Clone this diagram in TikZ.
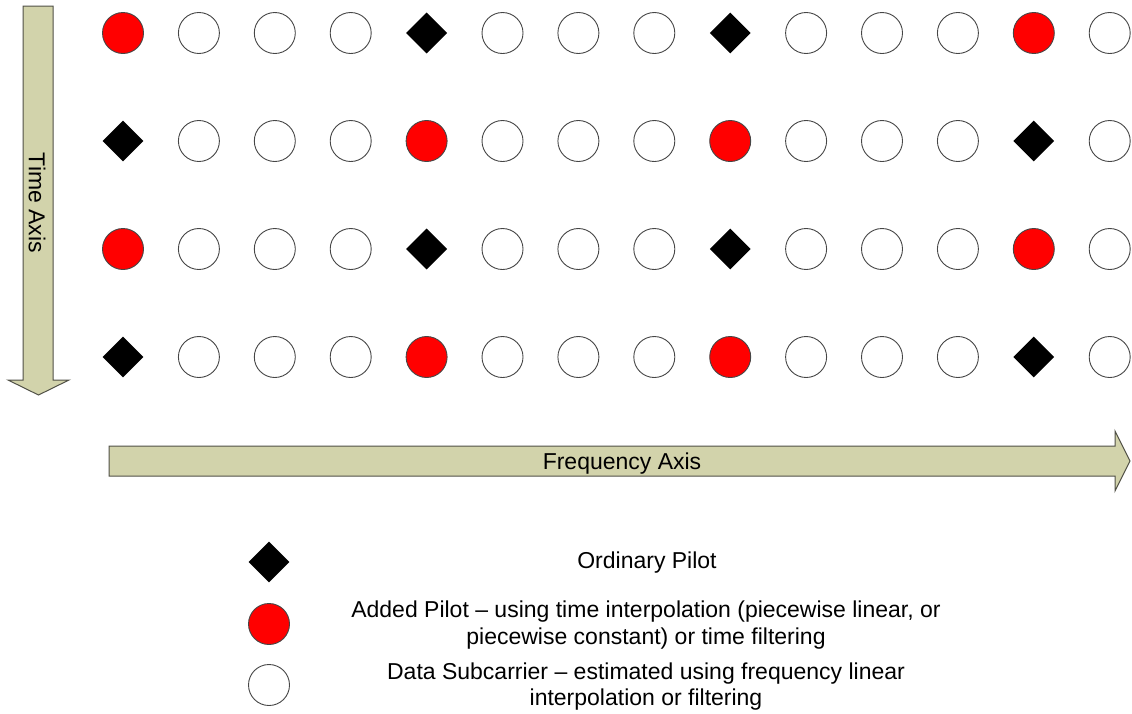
\documentclass[tikz,border=0pt]{standalone}
\usepackage{fontspec}
\setmainfont{Liberation Sans}
\usetikzlibrary{shapes.geometric}

\definecolor{axisfill}{RGB}{210,211,171}
\definecolor{axisline}{RGB}{80,80,70}
\definecolor{rimgray}{RGB}{70,70,70}

\tikzset{
  ptW/.style={circle, draw=rimgray, line width=0.9pt, fill=white, minimum size=41pt, inner sep=0pt},
  ptR/.style={circle, draw=rimgray, line width=0.9pt, fill=red, minimum size=41pt, inner sep=0pt},
  ptD/.style={diamond, fill=black, minimum size=41pt, inner sep=0pt},
  axisarrow/.style={fill=axisfill, draw=axisline, line width=1pt, line join=miter},
  bigtext/.style={font=\fontsize{23}{26.5}\selectfont, align=center, inner sep=0pt},
}

\begin{document}
\begin{tikzpicture}[x=1pt, y=-1pt]
  \useasboundingbox (0,0) rectangle (1132,713);

  % time axis (pointing down)
  \draw[axisarrow] (23,6) -- (53,6) -- (53,380) -- (69,380) -- (38.5,395)
        -- (8,380) -- (23,380) -- cycle;
  \node[bigtext, rotate=-90] (timelbl) at (37,203) {Time Axis};

  % frequency axis (pointing right)
  \draw[axisarrow] (109,446) -- (1115,446) -- (1115,431) -- (1130,461)
        -- (1115,491) -- (1115,476) -- (109,476) -- cycle;
  \node[bigtext] (freqlbl) at (622,464) {Frequency Axis};

  % pilot / data grid
  \foreach \r/\pat in {1/{R,W,W,W,D,W,W,W,D,W,W,W,R,W},
                       2/{D,W,W,W,R,W,W,W,R,W,W,W,D,W},
                       3/{R,W,W,W,D,W,W,W,D,W,W,W,R,W},
                       4/{D,W,W,W,R,W,W,W,R,W,W,W,D,W}} {
    \foreach \t [count=\c] in \pat {
      \pgfmathsetmacro\xx{123+75.9*(\c-1)}
      \pgfmathsetmacro\yy{33+108*(\r-1)}
      \node[pt\t] (g-\r-\c) at (\xx,\yy) {};
    }
  }

  % legend
  \node[ptD] (legD) at (269,562) {};
  \node[ptR] (legR) at (269,624) {};
  \node[ptW] (legW) at (269,685) {};
  \node[bigtext] (txtD) at (647,563) {Ordinary Pilot};
  \node[bigtext] (txtR) at (646,625) {Added Pilot -- using time interpolation (piecewise linear, or\\piecewise constant) or time filtering};
  \node[bigtext] (txtW) at (646,686.5) {Data Subcarrier -- estimated using frequency linear\\interpolation or filtering};
\end{tikzpicture}
\end{document}
